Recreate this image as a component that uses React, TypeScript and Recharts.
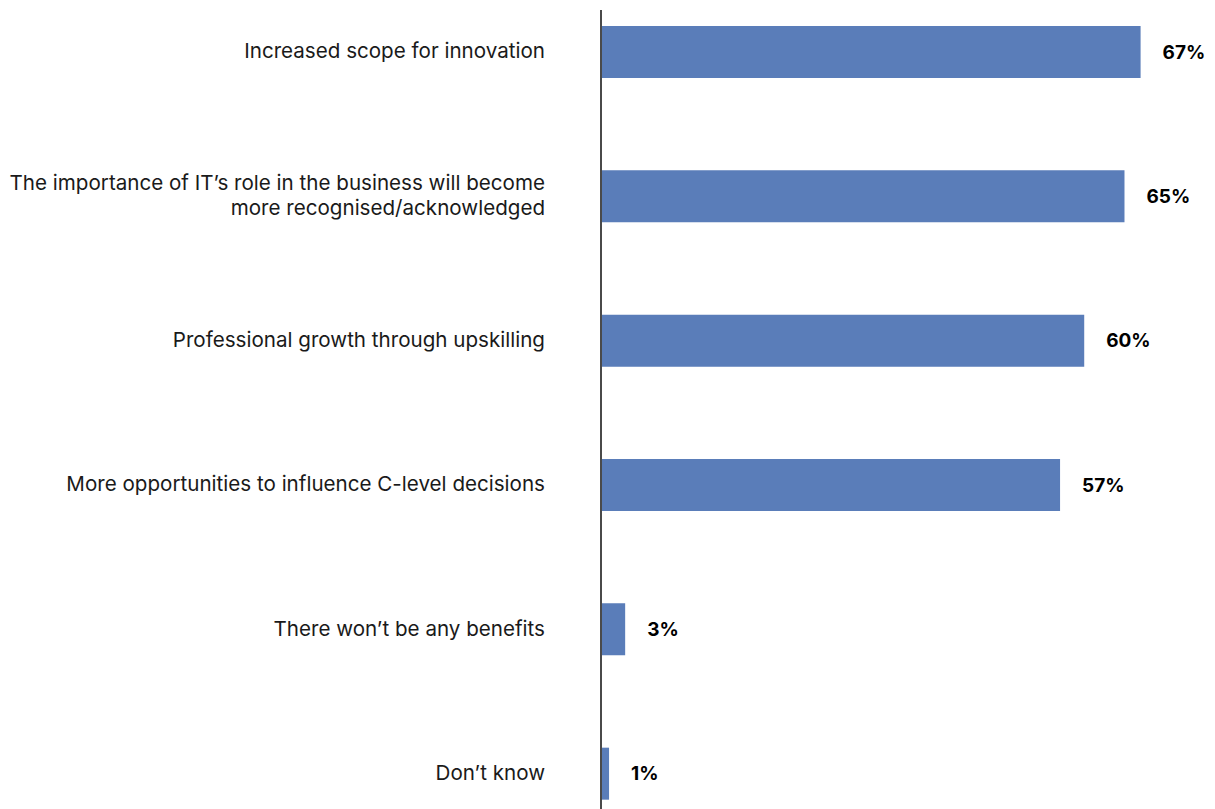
import { BarChart, Bar, XAxis, YAxis, LabelList } from "recharts";

const categories = [
  "Increased scope for innovation",
  "The importance of IT’s role in the business will become\nmore recognised/acknowledged",
  "Professional growth through upskilling",
  "More opportunities to influence C-level decisions",
  "There won’t be any benefits",
  "Don’t know",
];
const values = [67, 65, 60, 57, 3, 1];

const data = categories.map((c, i) => ({ category: c, value: values[i] }));

const FONT = "Inter, 'Noto Sans', sans-serif";

function CategoryTick(props: any) {
  const { x, y, payload } = props;
  const lines = String(payload.value).split("\n");
  const lh = 25;
  const start = y - 1 - ((lines.length - 1) * lh) / 2;
  return (
    <text
      x={x}
      y={start}
      textAnchor="end"
      fontFamily={FONT}
      fontSize={20.6}
      fill="#1a1a1a"
    >
      {lines.map((l, i) => (
        <tspan key={i} x={x} y={start + i * lh} dy="0.35em">
          {l}
        </tspan>
      ))}
    </text>
  );
}

export default function App() {
  return (
    <div style={{ position: "absolute", left: 0, top: 0 }}>
      <BarChart
        width={1215}
        height={809}
        data={data}
        layout="vertical"
        margin={{ top: 10, right: 14, bottom: 0, left: 0 }}
      >
        <XAxis type="number" domain={[0, 74.5]} hide />
        <YAxis
          type="category"
          dataKey="category"
          width={601}
          tickLine={false}
          tickSize={0}
          tickMargin={56}
          axisLine={{ stroke: "#4a4a4a", strokeWidth: 2 }}
          padding={{ top: -30, bottom: -37 }}
          tick={<CategoryTick />}
          interval={0}
        />
        <Bar dataKey="value" fill="#5a7db9" barSize={52} isAnimationActive={false}>
          <LabelList
            dataKey="value"
            position="right"
            offset={22}
            formatter={(v: any) => `${v}%`}
            style={{ fontFamily: FONT, fontSize: 19, fontWeight: 700, fill: "#000" }}
          />
        </Bar>
      </BarChart>
    </div>
  );
}
